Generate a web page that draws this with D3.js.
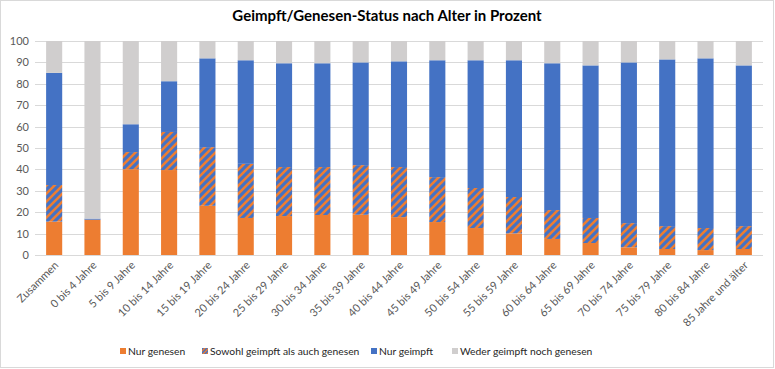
<!DOCTYPE html>
<html><head><meta charset="utf-8">
<script src="https://cdn.jsdelivr.net/npm/d3@7"></script>
<style>body{margin:0;background:#fff;} svg{display:block;font-family:Lato,"Open Sans",sans-serif;}</style>
</head><body>
<svg id="chart" width="775" height="369"></svg>
<script>
const categories = ["Zusammen","0 bis 4 Jahre","5 bis 9 Jahre","10 bis 14 Jahre","15 bis 19 Jahre","20 bis 24 Jahre","25 bis 29 Jahre","30 bis 34 Jahre","35 bis 39 Jahre","40 bis 44 Jahre","45 bis 49 Jahre","50 bis 54 Jahre","55 bis 59 Jahre","60 bis 64 Jahre","65 bis 69 Jahre","70 bis 74 Jahre","75 bis 79 Jahre","80 bis 84 Jahre","85 Jahre und älter"];
const nurGenesen = [15.6,16.5,40.1,39.7,23.0,17.3,18.2,18.7,18.8,17.7,15.4,12.6,10.1,7.5,5.6,3.6,2.8,2.3,2.8];
const sowohl     = [17.1,0.0,8.0,17.8,27.4,25.3,22.9,22.4,23.2,23.4,21.0,18.7,17.0,13.5,11.7,11.3,10.7,10.3,10.7];
const nurGeimpft = [52.4,0.5,13.0,23.7,41.5,48.4,48.5,48.5,48.0,49.4,54.6,59.7,63.9,68.6,71.3,75.1,77.9,79.3,75.1];
const weder      = [14.9,83.0,38.9,18.8,8.1,9.0,10.4,10.4,10.0,9.5,9.0,9.0,9.0,10.4,11.4,10.0,8.6,8.1,11.4];
const seriesNames = ["Nur genesen","Sowohl geimpft als auch genesen","Nur geimpft","Weder geimpft noch genesen"];
const yTicks = [0,10,20,30,40,50,60,70,80,90,100];

const svg = d3.select("#chart");
const defs = svg.append("defs");
const pat = defs.append("pattern").attr("id","hatch").attr("patternUnits","userSpaceOnUse")
  .attr("width",8).attr("height",8);
pat.append("rect").attr("width",8).attr("height",8).attr("fill","#4472C4");
pat.append("path").attr("d","M-2,2 L2,-2 M0,8 L8,0 M6,10 L10,6").attr("stroke","#ED7D31").attr("stroke-width",2.6);
const patL = defs.append("pattern").attr("id","hatchL").attr("patternUnits","userSpaceOnUse")
  .attr("width",4).attr("height",4);
patL.append("rect").attr("width",4).attr("height",4).attr("fill","#4472C4");
patL.append("path").attr("d","M-1,1 L1,-1 M0,4 L4,0 M3,5 L5,3").attr("stroke","#ED7D31").attr("stroke-width",1.4);

const fills = ["#ED7D31","url(#hatch)","#4472C4","#D0CECE"];
const keys = ["g","s","i","w"];
const data = categories.map((c,i)=>({cat:c,g:nurGenesen[i],s:sowohl[i],i:nurGeimpft[i],w:weder[i]}));
const stack = d3.stack().keys(keys)(data);

const pLeft = 35, pRight = 763, pTop = 41, pBottom = 255;
const x = d3.scaleBand().domain(categories).range([pLeft,pRight]).paddingInner(0.58).paddingOuter(0.29);
const y = d3.scaleLinear().domain([0,100]).range([pBottom,pTop]);

// border
svg.append("rect").attr("x",0.5).attr("y",0.5).attr("width",773).attr("height",367)
  .attr("fill","#fff").attr("stroke","#D9D9D9");

// title
svg.append("text").attr("x",387).attr("y",21).attr("text-anchor","middle")
  .attr("font-size",15).attr("font-weight","bold").attr("fill","#000")
  .text("Geimpft/Genesen-Status nach Alter in Prozent");

// grid
svg.append("g").selectAll("line").data(yTicks).join("line")
  .attr("x1",pLeft).attr("x2",pRight).attr("y1",d=>Math.round(y(d))+0.5).attr("y2",d=>Math.round(y(d))+0.5)
  .attr("stroke","#D9D9D9").attr("stroke-width",1);

// y axis labels
const yAxis = d3.axisLeft(y).tickValues(yTicks).tickSize(0).tickPadding(4);
const yg = svg.append("g").attr("transform",`translate(${pLeft-2},0)`).call(yAxis);
yg.select(".domain").remove();
yg.selectAll("text").attr("font-size",11).attr("fill","#595959").style("font-family","Lato,'Open Sans',sans-serif");

// bars
svg.append("g").selectAll("g").data(stack).join("g").attr("fill",(d,i)=>fills[i])
  .selectAll("rect").data(d=>d).join("rect")
  .attr("x",d=>x(d.data.cat)).attr("width",x.bandwidth())
  .attr("y",d=>y(d[1])).attr("height",d=>Math.max(0,y(d[0])-y(d[1])));

// x axis labels
const xAxis = d3.axisBottom(x).tickSize(0).tickPadding(0);
const xg = svg.append("g").attr("transform",`translate(0,${pBottom})`).call(xAxis);
xg.select(".domain").remove();
xg.selectAll("text").attr("font-size",11).attr("fill","#595959").style("font-family","Lato,'Open Sans',sans-serif")
  .attr("text-anchor","end").attr("dy",0).attr("y",0)
  .attr("transform","translate(5,11) rotate(-45)");

// legend
const legX = [120,202,371,452];
const leg = svg.append("g").selectAll("g").data(seriesNames).join("g")
  .attr("transform",(d,i)=>`translate(${legX[i]},351)`);
leg.append("rect").attr("x",0).attr("y",-3).attr("width",6).attr("height",6).attr("fill",(d,i)=>i===1?"url(#hatchL)":fills[i]);
leg.append("text").attr("x",8).attr("y",0).attr("dy","0.35em").attr("font-size",10.3).attr("fill","#262626").text(d=>d);
</script>
</body></html>
